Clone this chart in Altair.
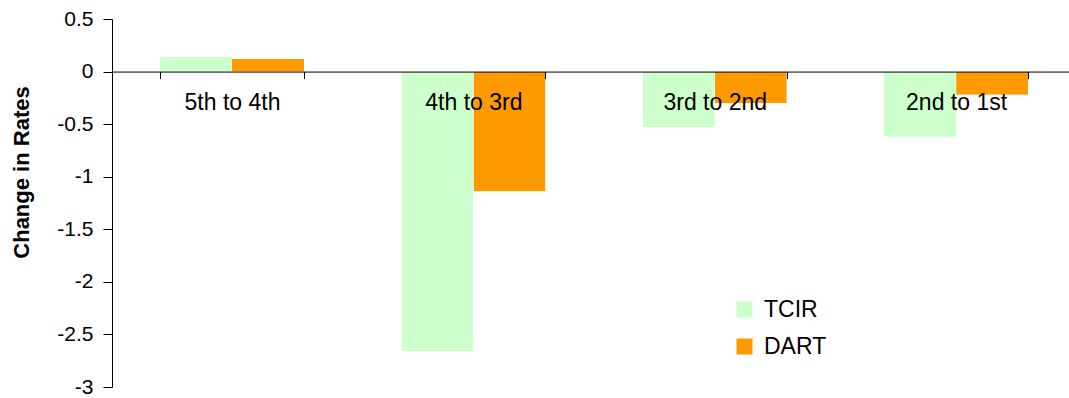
import altair as alt
import pandas as pd

# Change in rates between successive steps, per measure
categories = ["5th to 4th", "4th to 3rd", "3rd to 2nd", "2nd to 1st"]
series = ["TCIR", "DART"]
tcir = [0.14, -2.66, -0.53, -0.62]
dart = [0.12, -1.14, -0.30, -0.22]
y_ticks = [0.5, 0, -0.5, -1, -1.5, -2, -2.5, -3]
colors = ["#CCFFCC", "#FF9900"]

rows = []
for cat, a, b in zip(categories, tcir, dart):
    rows.append({"step": cat, "measure": "TCIR", "change": a})
    rows.append({"step": cat, "measure": "DART", "change": b})
df = pd.DataFrame(rows)

FONT = "Liberation Sans, Arial, sans-serif"
W, H = 957, 368
ZERO_Y = H * 0.5 / 3.5  # pixel row of the zero line inside the plot

bars = alt.Chart(df).mark_bar(cornerRadius=1).encode(
    x=alt.X(
        "step:N",
        sort=categories,
        scale=alt.Scale(paddingInner=0.403, paddingOuter=0.184, align=0.54),
        axis=alt.Axis(
            title=None,
            orient="bottom",
            offset=-(H - ZERO_Y),
            domainColor="black",
            domainWidth=1,
            tickColor="black",
            tickSize=7,
            tickBand="extent",
            labelAngle=0,
            labelFont=FONT,
            labelFontSize=23,
            labelColor="black",
            labelPadding=13,
            zindex=1,
        ),
    ),
    xOffset=alt.XOffset("measure:N", sort=series, scale=alt.Scale(paddingInner=0)),
    y=alt.Y(
        "change:Q",
        scale=alt.Scale(domain=[-3, 0.5], nice=False, zero=False),
        axis=alt.Axis(
            title="Change in Rates",
            values=y_ticks,
            labelExpr="'' + datum.value",
            grid=False,
            domainColor="black",
            tickColor="black",
            tickSize=9,
            labelPadding=10,
            labelFont=FONT,
            labelFontSize=21,
            labelColor="black",
            titleFont=FONT,
            titleFontSize=22,
            titleFontWeight="bold",
            titleColor="black",
            titleX=-84,
            titleY=153,
            titleBaseline="alphabetic",
        ),
    ),
    color=alt.Color(
        "measure:N",
        sort=series,
        scale=alt.Scale(domain=series, range=colors),
        legend=alt.Legend(
            title=None,
            orient="none",
            legendX=621,
            legendY=279,
            symbolType="square",
            symbolSize=256,
            symbolStrokeWidth=0,
            labelFont=FONT,
            labelFontSize=23,
            labelColor="black",
            labelOffset=8,
            rowPadding=13,
        ),
    ),
)

chart = bars.properties(
    width=W,
    height=H,
    autosize=alt.AutoSizeParams(type="none"),
    padding={"left": 112, "top": 19, "right": 0, "bottom": 11},
).configure_view(stroke=None)

chart.save("out.html", embed_options={"renderer": "svg", "actions": False})
